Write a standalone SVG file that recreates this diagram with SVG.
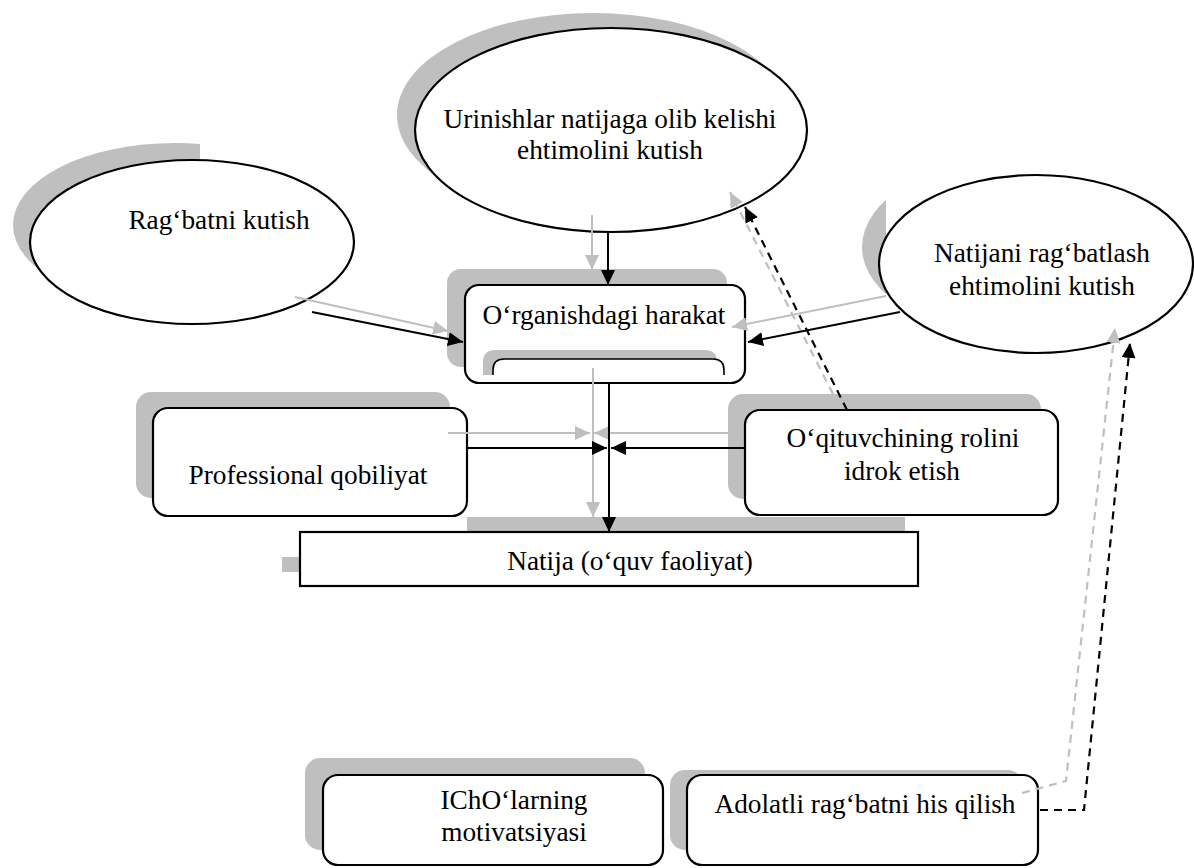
<svg xmlns="http://www.w3.org/2000/svg" width="1194" height="868" viewBox="0 0 1194 868">
<style>
.sh{fill:#bfbfbf;stroke:none}
.nd{fill:#fff;stroke:#000;stroke-width:2.2}
.cb{fill:none;stroke:#000;stroke-width:2}
.cg{fill:none;stroke:#bfbfbf;stroke-width:2}
.db{fill:none;stroke:#000;stroke-width:2.2;stroke-dasharray:8,6}
.dg{fill:none;stroke:#bfbfbf;stroke-width:2.2;stroke-dasharray:8,6}
</style>
<defs>
<marker id="ab" markerUnits="userSpaceOnUse" markerWidth="16" markerHeight="14" refX="15" refY="7" orient="auto"><path d="M0,0 L15,7 L0,14 z" fill="#000"/></marker>
<marker id="ag" markerUnits="userSpaceOnUse" markerWidth="16" markerHeight="14" refX="15" refY="7" orient="auto"><path d="M0,0 L15,7 L0,14 z" fill="#bfbfbf"/></marker>
<clipPath id="cl"><rect x="0" y="0" width="200" height="400"/></clipPath>
<clipPath id="cr"><rect x="840" y="200" width="46" height="140"/></clipPath>
</defs>
<rect width="1194" height="868" fill="#fff"/>

<g id="node-urinishlar">
<ellipse class="sh" cx="593" cy="115" rx="196" ry="102"/>
<ellipse class="nd" cx="611" cy="130" rx="196" ry="102"/>
<text x="610" y="128" text-anchor="middle" style="font-family:'Liberation Serif';font-size:27.3px">Urinishlar natijaga olib kelishi</text>
<text x="610" y="159" text-anchor="middle" style="font-family:'Liberation Serif';font-size:27.3px">ehtimolini kutish</text>
</g>

<g id="node-ragbat">
<ellipse class="sh" cx="175" cy="225" rx="162" ry="82" clip-path="url(#cl)"/>
<ellipse class="nd" cx="192" cy="242" rx="162" ry="82"/>
<text x="219" y="229" text-anchor="middle" style="font-family:'Liberation Serif';font-size:27.3px">Rag‘batni kutish</text>
</g>

<g id="node-natijani">
<ellipse class="sh" cx="1019" cy="247" rx="157" ry="89" clip-path="url(#cr)"/>
<ellipse class="nd" cx="1036" cy="264" rx="157" ry="89"/>
<text x="1042" y="262" text-anchor="middle" style="font-family:'Liberation Serif';font-size:27.3px">Natijani rag‘batlash</text>
<text x="1042" y="295" text-anchor="middle" style="font-family:'Liberation Serif';font-size:27.3px">ehtimolini kutish</text>
</g>

<g id="node-organish">
<rect class="sh" x="447" y="269" width="280" height="98" rx="14"/>
<rect class="nd" x="465" y="285" width="280" height="98" rx="14"/>
<path class="sh" d="M483,375 V362 Q483,350 495,350 H705 Q717,350 717,362 V375 Z"/>
<path d="M493,375 V370 Q493,359 504,359 H713 Q724,359 724,370 V375 Z" fill="#fff"/>
<path d="M493,375 V370 Q493,359 504,359 H713 Q724,359 724,370 V375" fill="none" stroke="#000" stroke-width="1.6"/>
<text x="604" y="324" text-anchor="middle" style="font-family:'Liberation Serif';font-size:27.3px">O‘rganishdagi harakat</text>
</g>

<g id="node-professional">
<rect class="sh" x="136" y="392" width="314" height="106" rx="15"/>
<rect class="nd" x="153" y="408" width="314" height="108" rx="15"/>
<text x="308" y="484" text-anchor="middle" style="font-family:'Liberation Serif';font-size:27.3px">Professional qobiliyat</text>
</g>

<g id="node-oqituvchi">
<rect class="sh" x="728" y="394" width="313" height="105" rx="15"/>
<rect class="nd" x="745" y="410" width="313" height="105" rx="15"/>
<text x="903" y="447" text-anchor="middle" style="font-family:'Liberation Serif';font-size:27.3px">O‘qituvchining rolini</text>
<text x="902" y="480" text-anchor="middle" style="font-family:'Liberation Serif';font-size:27.3px">idrok etish</text>
</g>

<g id="node-natija">
<rect class="sh" x="467" y="517" width="438" height="15"/>
<rect class="sh" x="282" y="557" width="18" height="15"/>
<rect x="300" y="532" width="618" height="54" fill="#fff" stroke="#000" stroke-width="2.2"/>
<text x="630" y="570" text-anchor="middle" style="font-family:'Liberation Serif';font-size:27.3px">Natija (o‘quv faoliyat)</text>
</g>

<g id="node-icho">
<rect class="sh" x="305" y="758" width="340" height="92" rx="15"/>
<rect class="nd" x="323" y="775" width="340" height="90" rx="15"/>
<text x="514" y="809" text-anchor="middle" style="font-family:'Liberation Serif';font-size:27.3px">IChO‘larning</text>
<text x="514" y="841" text-anchor="middle" style="font-family:'Liberation Serif';font-size:27.3px">motivatsiyasi</text>
</g>

<g id="node-adolatli">
<rect class="sh" x="670" y="770" width="353" height="80" rx="15"/>
<rect class="nd" x="687" y="775" width="351" height="90" rx="15"/>
<text x="865" y="813" text-anchor="middle" style="font-family:'Liberation Serif';font-size:27.3px">Adolatli rag‘batni his qilish</text>
</g>

<g id="connectors">
<path class="cg" d="M592,215 V270" marker-end="url(#ag)"/>
<path class="cg" d="M295,297 L448,331" marker-end="url(#ag)"/>
<path class="cg" d="M886,296 L732,327" marker-end="url(#ag)"/>
<path class="cg" d="M593,368 V517" marker-end="url(#ag)"/>
<path class="cg" d="M448,433 H590" marker-end="url(#ag)"/>
<path class="cg" d="M728,433 H594" marker-end="url(#ag)"/>
<path class="dg" d="M833,394 L730,192" marker-end="url(#ag)"/>
<path class="dg" d="M1022,793 L1066,781 L1115,328" marker-end="url(#ag)"/>
<path class="cb" d="M608,231 V285" marker-end="url(#ab)"/>
<path class="cb" d="M312,312 L463,342" marker-end="url(#ab)"/>
<path class="cb" d="M900,312 L748,342" marker-end="url(#ab)"/>
<path class="cb" d="M609,383 V532" marker-end="url(#ab)"/>
<path class="cb" d="M467,448 H607" marker-end="url(#ab)"/>
<path class="cb" d="M745,448 H611" marker-end="url(#ab)"/>
<path class="db" d="M847,410 L745,207" marker-end="url(#ab)"/>
<path class="db" d="M1040,810 H1084 L1130,343" marker-end="url(#ab)"/>
</g>
</svg>
